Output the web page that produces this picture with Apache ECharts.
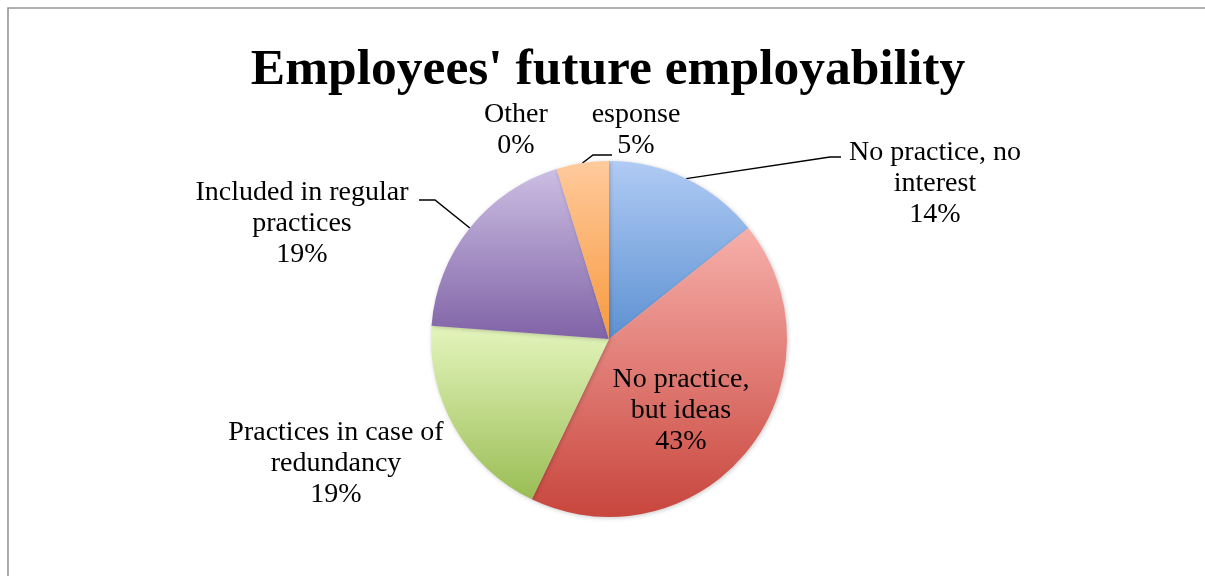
<!DOCTYPE html>
<html>
<head>
<meta charset="utf-8">
<title>Employees' future employability</title>
<script src="https://cdn.jsdelivr.net/npm/echarts@6/dist/echarts.min.js"></script>
<style>
  html, body { margin: 0; padding: 0; background: #ffffff; }
  #chart { width: 1205px; height: 576px; }
</style>
</head>
<body>
<div id="chart"></div>
<script>
// Survey answers: category names (with their line breaks) and number of respondents.
const categories = [
  'No practice, no\ninterest',
  'No practice,\nbut ideas',
  'Practices in case of\nredundancy',
  'Included in regular\npractices',
  'Other',
  'esponse'
];
const responses = [3, 9, 4, 4, 0, 1];

// Slice fills: light top, darker bottom.
const sliceColors = [
  ['#B0CBF4', '#5D91D2'],
  ['#F7AFAA', '#C8463D'],
  ['#E4F5BD', '#9ABD54'],
  ['#CCBEE3', '#8063A6'],
  ['#D9D9D9', '#A6A6A6'],
  ['#FFCA9C', '#F79A3F']
];

// Where each label block sits (centre of the text block).
const labelCentres = [[935, 184], [681, 411], [336, 464], [302, 224], [516, 130], [636, 130]];
// Elbow and end of the leader lines; the start comes from the slice edge.
const leaderEnds = {
  0: [[830, 157], [841, 157]],
  3: [[435, 200], [419, 200]],
  5: [[593, 155], [612, 155]]
};
const noLeader = [1, 2, 4];

const chart = echarts.init(document.getElementById('chart'), null, { renderer: 'canvas' });

const pieData = categories.map((name, i) => ({
  name: name,
  value: responses[i],
  itemStyle: {
    color: new echarts.graphic.LinearGradient(0, 0, 0, 1, [
      { offset: 0, color: sliceColors[i][0] },
      { offset: 1, color: sliceColors[i][1] }
    ])
  },
  labelLine: { show: noLeader.indexOf(i) < 0 }
}));

chart.setOption({
  backgroundColor: '#ffffff',
  animation: false,
  title: {
    text: "Employees' future employability",
    left: 608,
    top: 45,
    padding: 0,
    textAlign: 'center',
    textStyle: {
      fontFamily: 'Liberation Serif',
      fontSize: 51.5,
      fontWeight: 'bold',
      color: '#000000'
    }
  },
  graphic: [{
    type: 'rect',
    shape: { x: 8, y: 8, width: 1400, height: 800 },
    style: { fill: 'none', stroke: '#969696', lineWidth: 1.6 },
    silent: true,
    z: -1
  }],
  series: [{
    type: 'pie',
    center: [609, 339],
    radius: 178,
    startAngle: 90,
    clockwise: true,
    avoidLabelOverlap: false,
    data: pieData,
    itemStyle: {
      borderWidth: 0,
      shadowBlur: 4,
      shadowColor: 'rgba(0,0,0,0.22)',
      shadowOffsetX: 1,
      shadowOffsetY: 1
    },
    label: {
      show: true,
      position: 'outside',
      formatter: p => p.name + '\n' + Math.round(p.percent) + '%',
      fontFamily: 'Liberation Serif',
      fontSize: 28,
      lineHeight: 31,
      color: '#000000'
    },
    labelLine: {
      show: true,
      lineStyle: { color: '#000000', width: 1.5 }
    },
    labelLayout: params => {
      const i = params.dataIndex;
      const out = {
        x: labelCentres[i][0],
        y: labelCentres[i][1],
        align: 'center',
        verticalAlign: 'middle'
      };
      if (leaderEnds[i] && params.labelLinePoints) {
        out.labelLinePoints = [params.labelLinePoints[0], leaderEnds[i][0], leaderEnds[i][1]];
      }
      return out;
    },
    emphasis: { disabled: true }
  }]
});
</script>
</body>
</html>
